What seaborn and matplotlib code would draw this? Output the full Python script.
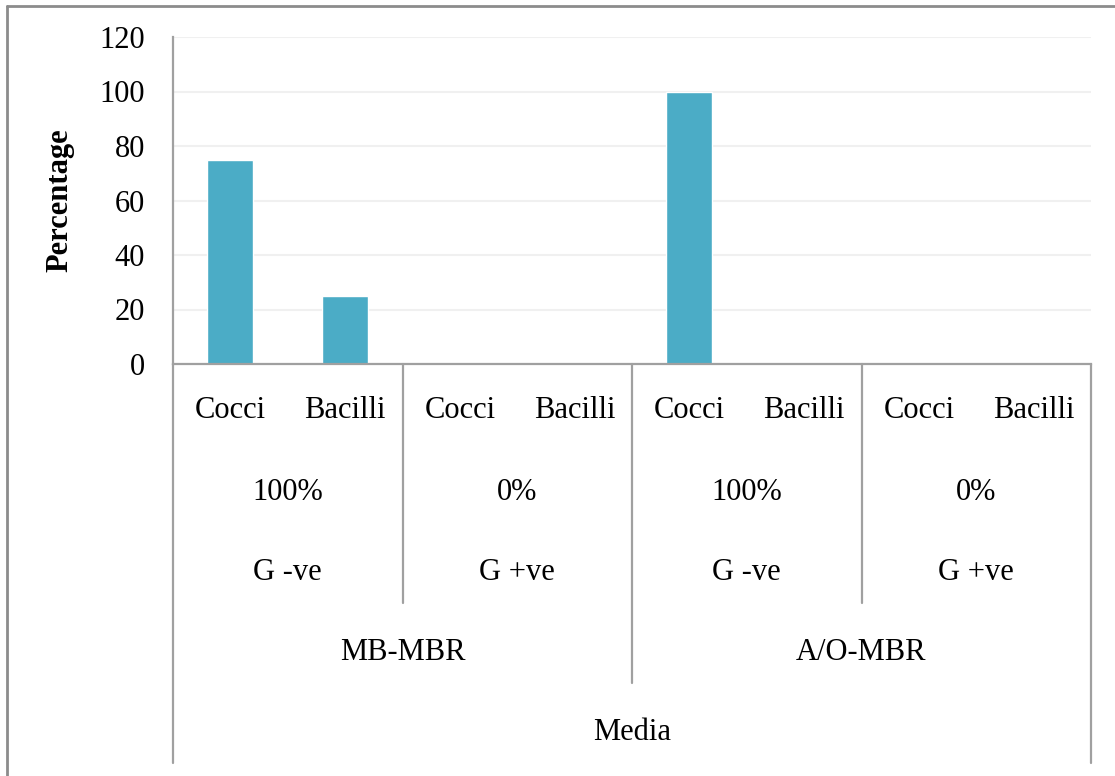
import matplotlib
matplotlib.use("Agg")
import matplotlib.pyplot as plt
from matplotlib.lines import Line2D
from matplotlib.transforms import blended_transform_factory
import seaborn as sns
import pandas as pd

# Category hierarchy (innermost first) and bar values
shapes = ["Cocci", "Bacilli", "Cocci", "Bacilli", "Cocci", "Bacilli", "Cocci", "Bacilli"]
share_labels = ["100%", "0%", "100%", "0%"]
gram_labels = ["G -ve", "G +ve", "G -ve", "G +ve"]
reactors = ["MB-MBR", "A/O-MBR"]
axis_title = "Media"
values = [75, 25, 0, 0, 100, 0, 0, 0]
y_ticks = [0, 20, 40, 60, 80, 100, 120]

slots = [f"{reactors[i // 4]}|{gram_labels[i // 2]}|{shapes[i]}" for i in range(len(shapes))]
df = pd.DataFrame({"slot": slots, "value": values})

sns.set_theme(style="white")
plt.rcParams["font.family"] = ["Liberation Serif", "DejaVu Serif"]
plt.rcParams["text.color"] = "black"
plt.rcParams["ytick.color"] = "black"
plt.rcParams["ytick.labelcolor"] = "black"

W, H = 1115, 776
fig = plt.figure(figsize=(W / 100, H / 100), dpi=100)
ax = fig.add_axes([173 / W, 1 - 364 / H, (1091 - 173) / W, (364 - 37) / H])

sns.barplot(data=df, x="slot", y="value", order=slots, color="#4BACC6",
            saturation=1, width=0.4, ax=ax, zorder=2)

ax.set_xlim(-0.5, len(slots) - 0.5)
ax.set_ylim(0, 120)
ax.set_yticks(y_ticks)
ax.set_yticklabels([str(t) for t in y_ticks], fontsize=22, color="black")
ax.set_xticks([])
ax.set_xlabel("")
ax.set_ylabel("")
ax.tick_params(axis="y", length=0, pad=20)
ax.grid(axis="y", color="#F0F0F0", linewidth=1.5, zorder=0)
ax.grid(axis="x", visible=False)
for side in ["top", "right"]:
    ax.spines[side].set_visible(False)
for side in ["left", "bottom"]:
    ax.spines[side].set_color("#A0A0A0")
    ax.spines[side].set_linewidth(1.6)

fig.text(60 / W, 1 - 200 / H, "Percentage", rotation=90, ha="center", va="center",
         fontsize=22, fontweight="bold", color="black")

# Multi-level category axis below the plot
tr = blended_transform_factory(ax.transData, fig.transFigure)

def fy(px):
    return 1 - px / H

def sep(x, y_end):
    fig.add_artist(Line2D([x, x], [fy(364), fy(y_end)], transform=tr,
                          color="#A0A0A0", linewidth=1.6))

sep(-0.5, 763)
sep(7.5, 763)
sep(3.5, 683)
sep(1.5, 603)
sep(5.5, 603)

label_kw = dict(transform=tr, ha="center", va="center", fontsize=22, color="black")
for i, s in enumerate(shapes):
    fig.text(i, fy(410), s, **label_kw)
for j in range(4):
    cx = 2 * j + 0.5
    fig.text(cx, fy(492), share_labels[j], **label_kw)
    fig.text(cx, fy(572), gram_labels[j], **label_kw)
for k, r in enumerate(reactors):
    fig.text(4 * k + 1.5, fy(652), r, **label_kw)
fig.text(3.5, fy(732), axis_title, **label_kw)

# Chart-area frame (left and top edges)
fig.add_artist(Line2D([7 / W, 7 / W], [0, fy(6)], transform=fig.transFigure,
                      color="#8C8C8C", linewidth=2))
fig.add_artist(Line2D([7 / W, 1], [fy(6), fy(6)], transform=fig.transFigure,
                      color="#8C8C8C", linewidth=2))

fig.savefig("out.png", dpi=100, facecolor="white")
